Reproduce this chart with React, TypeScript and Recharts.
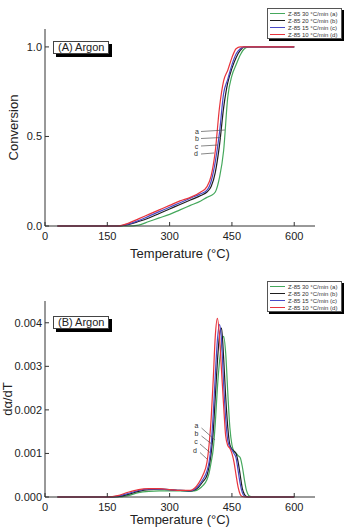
import React from 'react';
import { LineChart, Line, XAxis, YAxis } from 'recharts';

// conversion curves (panel A)
const tempsA = [30, 150, 175, 200, 225, 250, 275, 300, 325, 350, 375, 390, 400, 410, 420, 430, 440, 450, 460, 470, 480, 490, 600];
const convA30 = [0, 0, 0, 0, 0.005, 0.025, 0.045, 0.065, 0.09, 0.115, 0.14, 0.16, 0.17, 0.19, 0.27, 0.42, 0.72, 0.84, 0.9, 0.955, 0.99, 1, 1];
const convA20 = [0, 0, 0, 0.008, 0.025, 0.045, 0.07, 0.095, 0.12, 0.145, 0.17, 0.19, 0.22, 0.3, 0.45, 0.66, 0.8, 0.88, 0.94, 0.98, 1, 1, 1];
const convA15 = [0, 0, 0, 0.01, 0.03, 0.055, 0.08, 0.105, 0.13, 0.155, 0.18, 0.2, 0.25, 0.36, 0.52, 0.74, 0.82, 0.9, 0.96, 0.99, 1, 1, 1];
const convA10 = [0, 0, 0, 0.015, 0.04, 0.065, 0.09, 0.115, 0.14, 0.16, 0.19, 0.22, 0.28, 0.42, 0.66, 0.81, 0.87, 0.94, 0.99, 1, 1, 1, 1];

// rate curves (panel B)
const tempsB = [30, 150, 175, 200, 225, 250, 275, 300, 325, 350, 360, 370, 380, 390, 395, 400, 405, 410, 415, 420, 425, 430, 435, 440, 445, 450, 455, 460, 465, 470, 475, 480, 485, 490, 495, 500, 510, 600];
const rateB30 = [0, 0, 0, 0.00003, 0.0001, 0.00013, 0.00014, 0.00014, 0.00014, 0.00013, 0.00014, 0.00018, 0.00026, 0.0004, 0.00055, 0.0008, 0.0011, 0.0017, 0.0025, 0.0031, 0.0035, 0.00369, 0.0033, 0.0024, 0.0016, 0.0012, 0.00105, 0.001, 0.00095, 0.0009, 0.0007, 0.0004, 0.00015, 0.00004, 0.00001, 0, 0, 0];
const rateB20 = [0, 0, 0.00001, 0.00006, 0.00013, 0.00017, 0.00018, 0.00017, 0.00015, 0.00014, 0.00016, 0.00023, 0.00035, 0.0005, 0.0007, 0.001, 0.0015, 0.0023, 0.0031, 0.0037, 0.00388, 0.0032, 0.0023, 0.0016, 0.0012, 0.0011, 0.00105, 0.001, 0.0008, 0.0005, 0.0002, 0.00006, 0.00001, 0, 0, 0, 0, 0];
const rateB15 = [0, 0, 0.00002, 0.00008, 0.00015, 0.00018, 0.00018, 0.00017, 0.00015, 0.00014, 0.00017, 0.00026, 0.0004, 0.0006, 0.0008, 0.0012, 0.0019, 0.0028, 0.0036, 0.00396, 0.0036, 0.0026, 0.0018, 0.0013, 0.00115, 0.00108, 0.001, 0.0009, 0.0006, 0.0003, 0.0001, 0.00002, 0, 0, 0, 0, 0, 0];
const rateB10 = [0, 0, 0.00003, 0.00011, 0.00017, 0.00019, 0.00019, 0.00017, 0.00015, 0.00015, 0.0002, 0.00032, 0.0005, 0.0008, 0.0012, 0.0018, 0.0027, 0.0037, 0.0041, 0.0037, 0.0029, 0.0021, 0.0014, 0.00118, 0.00112, 0.001, 0.0008, 0.0005, 0.00022, 0.00006, 0.00001, 0, 0, 0, 0, 0, 0, 0];

const xTicks = [0, 150, 300, 450, 600];
const yTicksA = [0, 0.5, 1.0];
const yMinorA = [0, 0.25, 0.5, 0.75, 1.0];
const yTicksB = [0, 0.001, 0.002, 0.003, 0.004];
const yMinorB = [0, 0.0005, 0.001, 0.0015, 0.002, 0.0025, 0.003, 0.0035, 0.004];

const seriesNames = ['Z-85 30 °C/min (a)', 'Z-85 20 °C/min (b)', 'Z-85 15 °C/min (c)', 'Z-85 10 °C/min (d)'];
const seriesColors = ['#45a85c', '#1e1e1e', '#4a4ac6', '#e8343c'];
const keys = ['a', 'b', 'c', 'd'];

const rowsA = tempsA.map((t, i) => ({ t, a: convA30[i], b: convA20[i], c: convA15[i], d: convA10[i] }));
const rowsB = tempsB.map((t, i) => ({ t, a: rateB30[i], b: rateB20[i], c: rateB15[i], d: rateB10[i] }));

const AXIS = '#333';
const tickStyle = { fill: '#222', fontSize: 11 };

const yTitle = (text: string, dx: number) => (props: any) => {
  const vb = props.viewBox;
  const cx = vb.x + dx;
  const cy = vb.y + vb.height / 2;
  return (
    <text x={cx} y={cy} transform={`rotate(-90, ${cx}, ${cy})`} textAnchor="middle" dominantBaseline="central" fontSize={13} fill="#222">
      {text}
    </text>
  );
};

function Legend({ top }: { top: number }) {
  return (
    <div style={{ position: 'absolute', left: 267, top, width: 75, height: 31, background: '#fff', border: '1px solid #555', boxShadow: '2px 2px 0 #000', boxSizing: 'border-box', padding: '1px 0 0 2px' }}>
      {seriesNames.map((n, i) => (
        <div key={n} style={{ display: 'flex', alignItems: 'center', height: 7, fontSize: 6, color: '#333', whiteSpace: 'nowrap' }}>
          <span style={{ display: 'inline-block', width: 15, height: 1, borderTop: `1px solid ${seriesColors[i]}`, marginRight: 3 }} />
          {n}
        </div>
      ))}
    </div>
  );
}

function TagBox({ left, top, text }: { left: number; top: number; text: string }) {
  return (
    <div style={{ position: 'absolute', left, top, width: 56, height: 13, background: '#fff', border: '1px solid #444', boxShadow: '3px 3px 0 #000', boxSizing: 'border-box', fontSize: 11, lineHeight: '11px', paddingLeft: 4, color: '#222' }}>
      {text}
    </div>
  );
}

const notesA = [
  { l: 'a', tx: 197, ty: 131, x1: 201, y1: 131.5, x2: 225, y2: 130 },
  { l: 'b', tx: 197, ty: 138.5, x1: 201, y1: 138.5, x2: 221, y2: 137.5 },
  { l: 'c', tx: 196.5, ty: 146, x1: 201, y1: 146, x2: 218, y2: 145 },
  { l: 'd', tx: 196, ty: 153.5, x1: 201, y1: 154, x2: 214, y2: 153 },
];
const notesB = [
  { l: 'a', tx: 196.5, ty: 425, x1: 201.5, y1: 428, x2: 215, y2: 440 },
  { l: 'b', tx: 196.5, ty: 433, x1: 201.5, y1: 436, x2: 213, y2: 445 },
  { l: 'c', tx: 196, ty: 441, x1: 200, y1: 444, x2: 210, y2: 452.5 },
  { l: 'd', tx: 195, ty: 450, x1: 200, y1: 452.5, x2: 207, y2: 459 },
];

function Panel({ rows, yDomain, yTicks, yMinor, fmt, title, titleDx, height, top }: any) {
  return (
    <LineChart width={345} height={height} data={rows} margin={{ top, right: 30, left: 0, bottom: 0 }}>
      <XAxis dataKey="t" type="number" domain={[0, 650]} ticks={xTicks} tick={tickStyle} stroke={AXIS}
        tickSize={-4} tickMargin={10} height={height === 262 ? 36 : 30}
        label={{ value: 'Temperature (°C)', position: 'insideBottom', offset: height === 262 ? 4 : 3, fontSize: 13, fill: '#222' }} />
      <XAxis xAxisId="top" orientation="top" type="number" domain={[0, 650]} ticks={xTicks} tick={false} stroke={AXIS} tickSize={-4} height={0} />
      <YAxis type="number" domain={yDomain} ticks={yTicks} tick={tickStyle} stroke={AXIS} tickSize={-4} tickMargin={7}
        tickFormatter={fmt} width={45} label={yTitle(title, titleDx)} />
      <YAxis yAxisId="right" orientation="right" type="number" domain={yDomain} ticks={yMinor} tick={false} stroke={AXIS} tickSize={-4} width={0} />
      {keys.map((k, i) => (
        <Line key={k} dataKey={k} type="monotone" stroke={seriesColors[i]} strokeWidth={1.2} dot={false} isAnimationActive={false} />
      ))}
    </LineChart>
  );
}

export default function App() {
  return (
    <div style={{ position: 'absolute', left: 0, top: 0, width: 345, height: 527, background: '#fff', fontFamily: '"Liberation Sans", Arial, sans-serif', overflow: 'hidden' }}>
      <div style={{ position: 'absolute', left: 0, top: 0 }}>
        <Panel rows={rowsA} yDomain={[0, 1.1]} yTicks={yTicksA} yMinor={yMinorA} fmt={(v: number) => v.toFixed(1)}
          title="Conversion" titleDx={13} height={262} top={29} />
      </div>
      <div style={{ position: 'absolute', left: 0, top: 262 }}>
        <Panel rows={rowsB} yDomain={[0, 0.0045]} yTicks={yTicksB} yMinor={yMinorB} fmt={(v: number) => v.toFixed(3)}
          title="dα/dT" titleDx={7} height={265} top={39} />
      </div>
      <TagBox left={53} top={41} text="(A) Argon" />
      <TagBox left={53} top={316} text="(B) Argon" />
      <Legend top={8} />
      <Legend top={281} />
      <svg width={345} height={527} style={{ position: 'absolute', left: 0, top: 0, pointerEvents: 'none' }}>
        {[...notesA, ...notesB].map((n, i) => (
          <g key={i}>
            <line x1={n.x1} y1={n.y1} x2={n.x2} y2={n.y2} stroke="#555" strokeWidth={0.7} />
            <text x={n.tx} y={n.ty} textAnchor="middle" dominantBaseline="central" fontSize={7} fill="#333">{n.l}</text>
          </g>
        ))}
      </svg>
    </div>
  );
}
